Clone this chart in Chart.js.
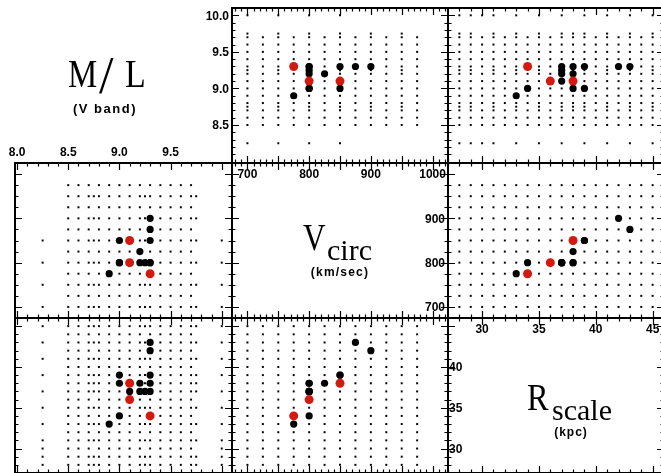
<!DOCTYPE html>
<html>
<head>
<meta charset="utf-8">
<script src="https://cdn.jsdelivr.net/npm/chart.js@4.4.0/dist/chart.umd.min.js"></script>
<style>
  html, body { margin: 0; padding: 0; background: #fff; }
  #page { position: relative; width: 661px; height: 473px; overflow: hidden; background: #fff; }
  .panel { position: absolute; }
</style>
</head>
<body>
<div id="page"></div>
<script>
// model grid (small dots)
const vGrid = [700, 725, 750, 775, 800, 825, 850, 875, 900, 925, 950, 975];
const rGrid = [28, 29, 30, 31, 32, 33, 34, 35, 36, 37, 38, 39, 40, 41, 42, 43, 44, 45];
const mlRows = [8.5, 8.6, 8.7, 8.8, 8.9, 9.0, 9.1, 9.2, 9.3, 9.4, 9.5, 9.6, 9.7];
const mlHalf = [8.75, 9.25, 9.75];
const vHalf = [700, 750, 800, 850, 900, 950];
const rHalf = [28, 29, 31, 33, 35, 37, 38, 39, 41, 43, 45];
const mlEdge = [8.25, 10.0];
const vEdge = [700, 750, 800, 850];
const rEdge = [28, 29, 30, 31, 33, 35, 37, 39, 41, 43, 45];

// best models (black) and selected models (red): M/L, Vcirc, Rscale
const blackML = [9.3, 9.3, 9.0, 9.3, 9.2, 9.0, 9.0, 9.3, 9.1, 9.2, 9.25, 9.3, 8.9];
const blackV  = [900, 875, 850, 850, 825, 800, 800, 800, 800, 800, 800, 800, 775];
const blackR  = [42, 43, 39, 39, 38, 34, 38, 38, 37, 37, 37, 37, 33];
const redML = [9.3, 9.1, 9.1];
const redV  = [775, 800, 850];
const redR  = [34, 36, 38];

// tick labels
const mlTicksX = [8.0, 8.5, 9.0, 9.5];
const mlTicksY = [10.0, 9.5, 9.0, 8.5];
const vTicksX = [700, 800, 900, 1000];
const vTicksY = [900, 800, 700];
const rTicksX = [30, 35, 40, 45];
const rTicksY = [40, 35, 30];

// axis ranges
const ML = { min: 7.98, max: 10.1 };
const VC = { min: 675, max: 1025 };
const RS = { min: 27, max: 46 };
const TK = {
  mlX: { major: 0.5, minor: 0.1 }, mlY: { major: 0.5, minor: 0.1 },
  vX: { major: 50, minor: 10 }, vY: { major: 100, minor: 25 },
  rX: { major: 5, minor: 1 }, rY: { major: 5, minor: 1 }
};

const colX = [15, 232, 448, 664];
const rowY = [8, 163, 318, 473];
const RED = '#d21a0e';
const TICKFONT = 'bold 12px "Liberation Sans", Arial, sans-serif';
const SERIF = '"Liberation Serif", "DejaVu Serif", serif';

function combos(as, bs) {
  const out = [];
  as.forEach(a => bs.forEach(b => out.push([a, b])));
  return out;
}
const mlV = [...combos(mlRows, vGrid), ...combos(mlHalf, vHalf), ...combos(mlEdge, vEdge)];
const mlR = [...combos(mlRows, rGrid), ...combos(mlHalf, rHalf), ...combos(mlEdge, rEdge)];
const vR = combos(vGrid, rGrid);

function drawTicks(ctx, sc, t, horiz, a) {
  const n0 = Math.ceil(sc.min / t.minor - 1e-6), n1 = Math.floor(sc.max / t.minor + 1e-6);
  ctx.beginPath();
  for (let k = n0; k <= n1; k++) {
    const v = k * t.minor;
    const r = v / t.major;
    const len = Math.abs(r - Math.round(r)) < 1e-6 ? 7 : 3.5;
    const p = Math.round(sc.getPixelForValue(v)) + 0.5;
    if (horiz) {
      ctx.moveTo(p, a.top); ctx.lineTo(p, a.top + len);
      ctx.moveTo(p, a.bottom); ctx.lineTo(p, a.bottom - len);
    } else {
      ctx.moveTo(a.left, p); ctx.lineTo(a.left + len, p);
      ctx.moveTo(a.right, p); ctx.lineTo(a.right - len, p);
    }
  }
  ctx.stroke();
}

const deco = {
  id: 'deco',
  afterDatasetsDraw(chart, args, o) {
    const { ctx, chartArea: a } = chart;
    const sx = chart.scales.x, sy = chart.scales.y;
    ctx.save();
    if (o.frame) {
      ctx.strokeStyle = '#000';
      ctx.lineWidth = 1.2;
      drawTicks(ctx, sx, o.tx, true, a);
      drawTicks(ctx, sy, o.ty, false, a);
      ctx.lineWidth = 2;
      ctx.strokeRect(a.left, a.top, a.right - a.left, a.bottom - a.top);
    }
    ctx.fillStyle = '#000';
    ctx.font = TICKFONT;
    ctx.textBaseline = 'alphabetic';
    (o.labels || []).forEach(l => {
      l.values.forEach(v => {
        const s = v.toFixed(l.dec || 0);
        ctx.textAlign = l.align;
        if (l.axis === 'x') {
          ctx.fillText(s, sx.getPixelForValue(v), a.top + l.dy);
        } else {
          const x0 = l.side === 'left' ? a.left : a.right;
          ctx.fillText(s, x0 + l.dx, sy.getPixelForValue(v) + 4.3);
        }
      });
    });
    (o.texts || []).forEach(t => {
      ctx.save();
      ctx.font = t.font;
      ctx.textAlign = t.align || 'left';
      if ('letterSpacing' in ctx) ctx.letterSpacing = t.ls || '0px';
      ctx.translate(t.x - o.ox, t.y - o.oy);
      ctx.scale(t.sx || 1, 1);
      ctx.fillText(t.str, 0, 0);
      ctx.restore();
    });
    ctx.restore();
  }
};

const page = document.getElementById('page');
const PAD = 34;

function makePanel(col, row, xr, yr, datasets, opts) {
  const L = colX[col], R = colX[col + 1], T = rowY[row], B = rowY[row + 1];
  const w = R - L + 2 * PAD, h = B - T + 2 * PAD;
  const div = document.createElement('div');
  div.className = 'panel';
  div.style.left = (L - PAD) + 'px';
  div.style.top = (T - PAD) + 'px';
  const cv = document.createElement('canvas');
  cv.width = w; cv.height = h;
  cv.style.width = w + 'px'; cv.style.height = h + 'px';
  div.appendChild(cv);
  page.appendChild(div);
  return new Chart(cv, {
    type: 'scatter',
    data: { datasets },
    options: {
      responsive: false,
      animation: false,
      devicePixelRatio: 1,
      events: [],
      layout: { padding: PAD },
      plugins: {
        legend: { display: false },
        tooltip: { enabled: false },
        deco: Object.assign({ ox: L - PAD, oy: T - PAD }, opts)
      },
      scales: {
        x: { type: 'linear', display: false, min: xr.min, max: xr.max },
        y: { type: 'linear', display: false, min: yr.min, max: yr.max }
      }
    },
    plugins: [deco]
  });
}

function pts(xs, ys) { return xs.map((v, i) => ({ x: v, y: ys[i] })); }
function gridPts(pairs, ix, iy) { return pairs.map(p => ({ x: p[ix], y: p[iy] })); }

function sets(grid, bx, by, rx, ry) {
  return [
    { data: pts(rx, ry), backgroundColor: RED, borderWidth: 0, pointRadius: 4.5, order: 0, clip: false },
    { data: pts(bx, by), backgroundColor: '#000', borderWidth: 0, pointRadius: 3.6, order: 1, clip: false },
    { data: grid, backgroundColor: '#000', borderWidth: 0, pointStyle: 'rect', pointRadius: 1.4, order: 2, clip: false }
  ];
}

// row 0
makePanel(0, 0, ML, ML, [], {
  frame: false,
  texts: [
    { str: 'M', x: 68, y: 87, font: '40px ' + SERIF, sx: 0.82 },
    { str: '/', x: 99, y: 93, font: '52px ' + SERIF },
    { str: 'L', x: 125, y: 87, font: '40px ' + SERIF, sx: 0.85 },
    { str: '(V band)', x: 105, y: 113, font: 'bold 13px "Liberation Sans", Arial, sans-serif', align: 'center', ls: '1.5px' }
  ]
});
makePanel(1, 0, VC, ML, sets(gridPts(mlV, 1, 0), blackV, blackML, redV, redML), {
  frame: true, tx: TK.vX, ty: TK.mlY,
  labels: [{ axis: 'y', values: mlTicksY, dec: 1, side: 'left', dx: -3, align: 'right' }]
});
makePanel(2, 0, RS, ML, sets(gridPts(mlR, 1, 0), blackR, blackML, redR, redML), {
  frame: true, tx: TK.rX, ty: TK.mlY
});

// row 1
makePanel(0, 1, ML, VC, sets(gridPts(mlV, 0, 1), blackML, blackV, redML, redV), {
  frame: true, tx: TK.mlX, ty: TK.vY,
  labels: [{ axis: 'x', values: mlTicksX, dec: 1, dy: -7, align: 'center' }]
});
makePanel(1, 1, VC, VC, [], {
  frame: true, tx: TK.vX, ty: TK.vY,
  labels: [
    { axis: 'x', values: vTicksX, dy: 15, align: 'center' },
    { axis: 'y', values: vTicksY, side: 'right', dx: -3, align: 'right' }
  ],
  texts: [
    { str: 'V', x: 303, y: 250, font: '38px ' + SERIF, sx: 0.82 },
    { str: 'circ', x: 327, y: 260, font: '30px ' + SERIF },
    { str: '(km/sec)', x: 340, y: 276, font: 'bold 12px "Liberation Sans", Arial, sans-serif', align: 'center', ls: '1.2px' }
  ]
});
makePanel(2, 1, RS, VC, sets(gridPts(vR, 1, 0), blackR, blackV, redR, redV), {
  frame: true, tx: TK.rX, ty: TK.vY
});

// row 2
makePanel(0, 2, ML, RS, sets(gridPts(mlR, 0, 1), blackML, blackR, redML, redR), {
  frame: true, tx: TK.mlX, ty: TK.rY
});
makePanel(1, 2, VC, RS, sets(gridPts(vR, 0, 1), blackV, blackR, redV, redR), {
  frame: true, tx: TK.vX, ty: TK.rY
});
makePanel(2, 2, RS, RS, [], {
  frame: true, tx: TK.rX, ty: TK.rY,
  labels: [
    { axis: 'x', values: rTicksX, dy: 15, align: 'center' },
    { axis: 'y', values: rTicksY, side: 'left', dx: 1, align: 'left' }
  ],
  texts: [
    { str: 'R', x: 527, y: 410, font: '38px ' + SERIF, sx: 0.85 },
    { str: 'scale', x: 552, y: 420, font: '30px ' + SERIF },
    { str: '(kpc)', x: 571, y: 436, font: 'bold 12px "Liberation Sans", Arial, sans-serif', align: 'center', ls: '1px' }
  ]
});
</script>
</body>
</html>
